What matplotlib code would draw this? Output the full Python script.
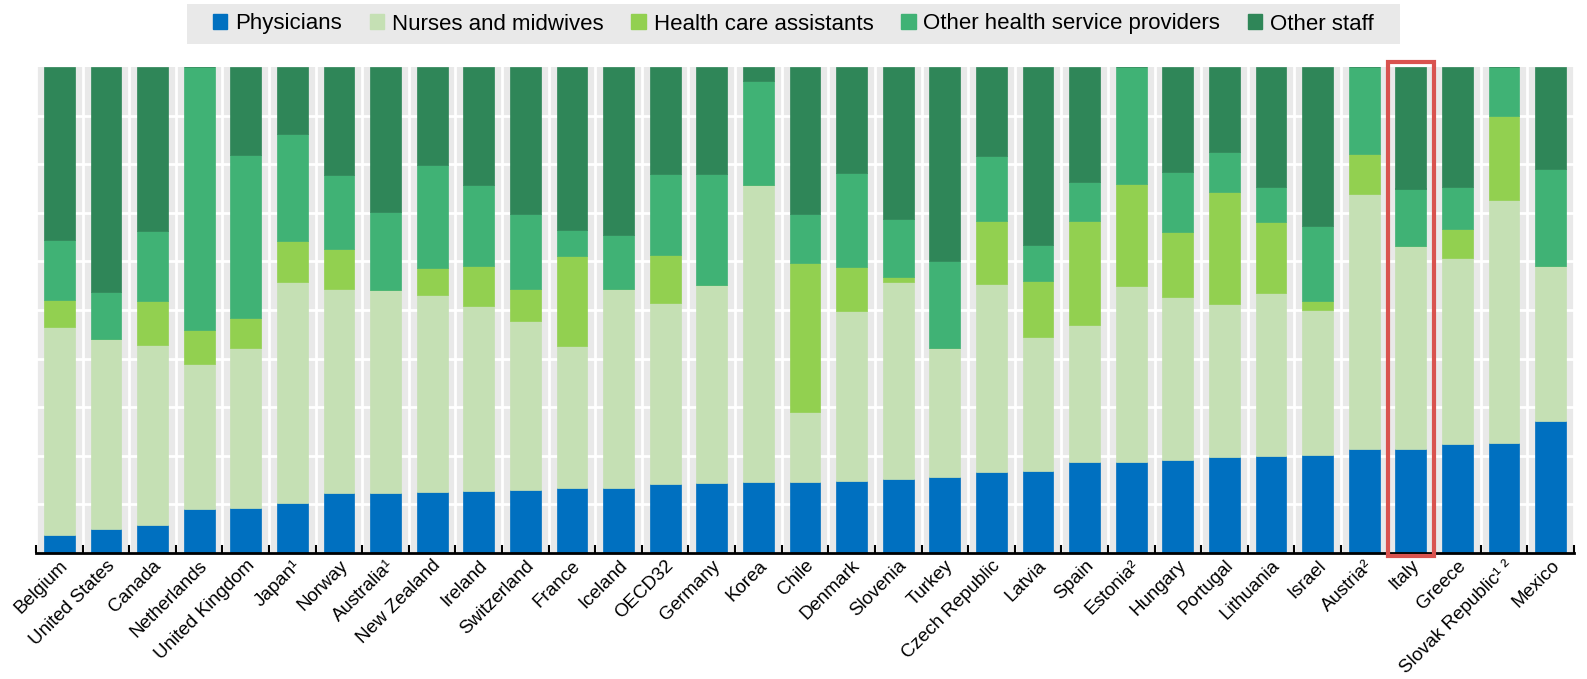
import matplotlib
matplotlib.use("Agg")
import matplotlib.pyplot as plt
from matplotlib.patches import Rectangle, Patch
import numpy as np

countries = ["Belgium", "United States", "Canada", "Netherlands", "United Kingdom", "Japan¹",
             "Norway", "Australia¹", "New Zealand", "Ireland", "Switzerland", "France",
             "Iceland", "OECD32", "Germany", "Korea", "Chile", "Denmark", "Slovenia", "Turkey",
             "Czech Republic", "Latvia", "Spain", "Estonia²", "Hungary", "Portugal",
             "Lithuania", "Israel", "Austria²", "Italy", "Greece", "Slovak Republic¹ ²", "Mexico"]

physicians = [3.8, 4.9, 5.7, 9.1, 9.3, 10.3, 12.3, 12.3, 12.6, 12.85, 13.0, 13.4,
              13.4, 14.1, 14.4, 14.6, 14.6, 14.9, 15.2, 15.7, 16.7, 16.8, 18.75, 18.75,
              19.15, 19.8, 20.0, 20.1, 21.3, 21.5, 22.4, 22.6, 27.2]
nurses = [42.8, 39.1, 37.1, 29.8, 32.8, 45.5, 42.0, 41.9, 40.5, 38.05, 34.8, 29.2,
          40.9, 37.3, 40.7, 61.2, 14.5, 34.9, 40.5, 26.4, 38.6, 27.7, 28.25, 36.15,
          33.55, 31.4, 33.5, 29.9, 52.6, 41.7, 38.4, 50.0, 31.9]
assistants = [5.4, 0.0, 9.0, 7.0, 6.3, 8.4, 8.3, 0.0, 5.6, 8.2, 6.6, 18.6,
              0.0, 10.0, 0.0, 0.0, 30.5, 9.0, 1.0, 0.0, 13.0, 11.4, 21.4, 21.1,
              13.4, 23.1, 14.7, 1.8, 8.3, 0.0, 5.8, 17.3, 0.0]
other_providers = [12.4, 9.7, 14.5, 54.1, 33.5, 22.0, 15.1, 15.9, 21.2, 16.7, 15.3, 5.3,
                   11.1, 16.5, 22.8, 21.4, 10.1, 19.4, 12.1, 17.9, 13.4, 7.5, 8.0, 24.0,
                   12.2, 8.3, 7.2, 15.4, 17.8, 11.8, 8.8, 10.1, 19.9]
other_staff = [35.6, 46.3, 33.7, 0.0, 18.1, 13.8, 22.3, 29.9, 20.1, 24.2, 30.3, 33.5,
               34.6, 22.1, 22.1, 2.8, 30.3, 21.8, 31.2, 40.0, 18.3, 36.6, 23.6, 0.0,
               21.7, 17.4, 24.6, 32.8, 0.0, 25.0, 24.6, 0.0, 21.0]

series_names = ["Physicians", "Nurses and midwives", "Health care assistants",
                "Other health service providers", "Other staff"]
colors = ["#0070C0", "#C5E0B4", "#92D050", "#40B275", "#2F8658"]
highlight = "Italy"

plt.rcParams['font.family'] = ['Liberation Sans', 'DejaVu Sans']

W, H = 1587, 679
fig = plt.figure(figsize=(W / 100, H / 100), dpi=100)
ax = fig.add_axes([36 / W, 1 - 553 / H, (1574 - 36) / W, (553 - 67) / H])
ax.set_facecolor("#E9E9E9")

x = np.arange(len(countries))
data = [physicians, nurses, assistants, other_providers, other_staff]
bottom = np.zeros(len(countries))
for vals, col in zip(data, colors):
    v = np.array(vals)
    ax.bar(x, v, bottom=bottom, width=0.66, color=col, edgecolor=col, linewidth=0.5, zorder=3)
    bottom += v

ax.set_xlim(-0.5, len(countries) - 0.5)
ax.set_ylim(0, 100)

for yv in range(10, 100, 10):
    ax.axhline(yv, color="white", lw=2, zorder=1)
for xv in np.arange(-0.5, len(countries), 1.0):
    ax.axvline(xv, color="white", lw=2, zorder=1)

for s in ["top", "right", "left"]:
    ax.spines[s].set_visible(False)
ax.spines["bottom"].set_linewidth(2)
ax.spines["bottom"].set_zorder(5)

ax.set_yticks([])
ax.set_xticks(x)
ax.set_xticklabels(countries, rotation=45, ha="right", rotation_mode="anchor", fontsize=13.5)
ax.tick_params(axis="x", which="major", length=0, pad=3)
ax.set_xticks(np.arange(-0.5, len(countries), 1.0), minor=True)
ax.tick_params(axis="x", which="minor", direction="in", length=6, width=1.5, color="black")

i = countries.index(highlight)
rect = Rectangle((i - 0.5, -0.7), 1.0, 101.8, fill=False, edgecolor="#D9534F", lw=3,
                 clip_on=False, zorder=6)
ax.add_patch(rect)

handles = [Patch(facecolor=c, edgecolor=c) for c in colors]
leg = fig.legend(handles, series_names, loc="center", bbox_to_anchor=(0.5, 1 - 24 / H),
                 ncol=5, fontsize=16, frameon=False,
                 handlelength=0.65, handleheight=0.65, handletextpad=0.35,
                 columnspacing=1.25, borderpad=0.2, borderaxespad=0.0)

fig.canvas.draw()
bb = leg.get_window_extent().transformed(fig.transFigure.inverted())
padx = 22 / W
top = 1 - 4 / H
bot = 1 - 44 / H
bg = Rectangle((bb.x0 - padx, bot), bb.width + 2 * padx, top - bot,
               transform=fig.transFigure, facecolor="#E9E9E9", edgecolor="none", zorder=0)
fig.patches.append(bg)

fig.savefig("out.png", dpi=100)
